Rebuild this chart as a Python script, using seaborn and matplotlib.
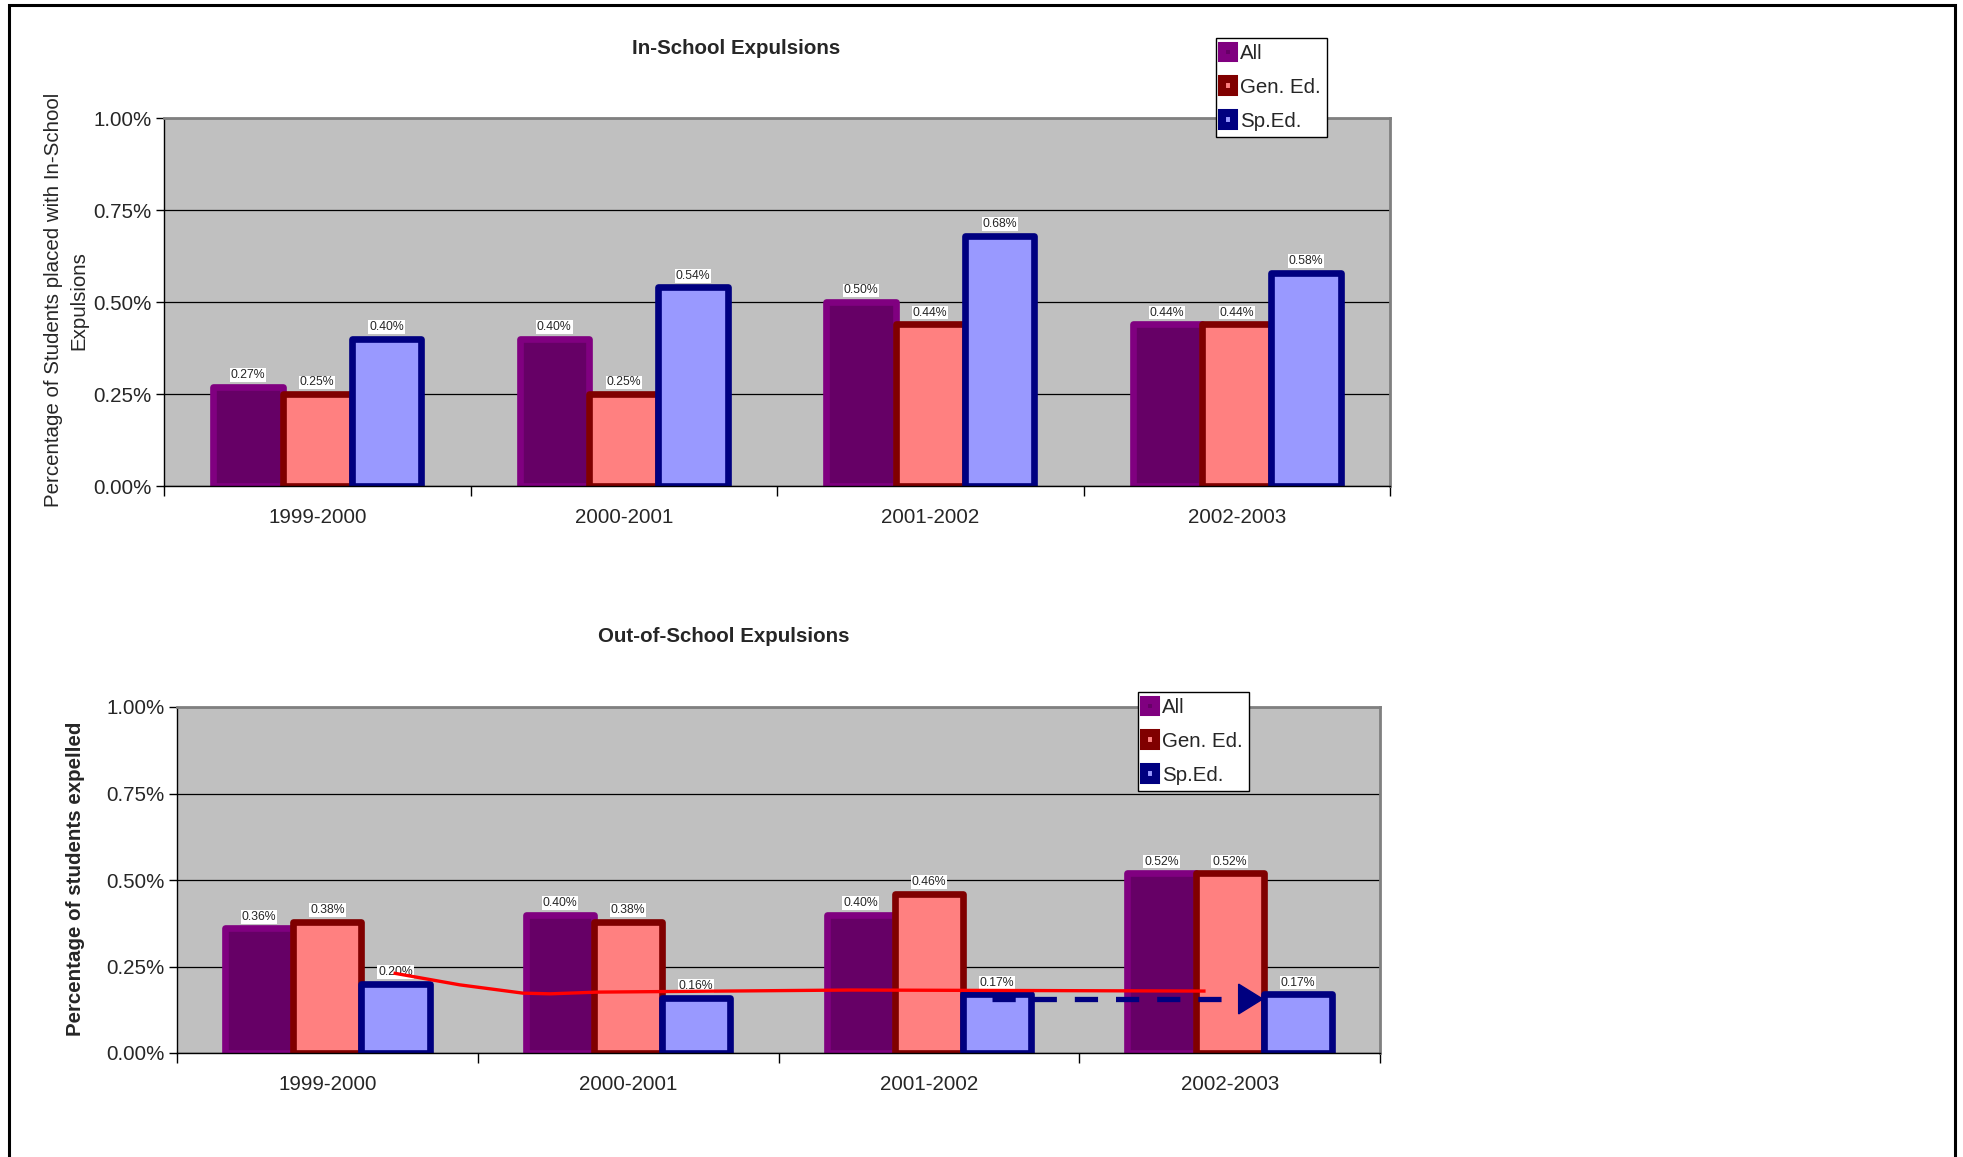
import numpy as np
import pandas as pd
import matplotlib
matplotlib.use("Agg")
import matplotlib.pyplot as plt
import seaborn as sns
from matplotlib.patches import Patch, Rectangle, Polygon
from matplotlib.ticker import FuncFormatter, MultipleLocator, FixedLocator

# ---------------- data ----------------
years = ["1999-2000", "2000-2001", "2001-2002", "2002-2003"]
groups = ["All", "Gen. Ed.", "Sp.Ed."]

in_all = [0.27, 0.40, 0.50, 0.44]
in_gen = [0.25, 0.25, 0.44, 0.44]
in_sp = [0.40, 0.54, 0.68, 0.58]

out_all = [0.36, 0.40, 0.40, 0.52]
out_gen = [0.38, 0.38, 0.46, 0.52]
out_sp = [0.20, 0.16, 0.17, 0.17]

face_colors = ["#660066", "#FF8080", "#9999FF"]
edge_colors = ["#800080", "#800000", "#000080"]

# hand-drawn annotations on the lower chart (category units, percent units)
red_x = [0.22, 0.44, 0.65, 0.74, 0.90, 1.74, 2.92]
red_y = [0.231, 0.197, 0.173, 0.171, 0.176, 0.182, 0.179]
arrow_x = [2.21, 3.03, 3.11]   # line start, head base, head tip
arrow_y = 0.156
arrow_half_h = 0.043

# ---------------- style ----------------
sns.set_style("white")
plt.rcParams["font.family"] = ["Liberation Sans", "DejaVu Sans"]

FS = 14.8
W, H, DPI = 1963, 1157, 100
fig = plt.figure(figsize=(W / DPI, H / DPI), dpi=DPI)
fig.patch.set_facecolor("white")


def make_df(a, g, s):
    rows = []
    for vals, grp in zip([a, g, s], groups):
        for y, v in zip(years, vals):
            rows.append({"Year": y, "Group": grp, "Value": v})
    return pd.DataFrame(rows)


def draw(ax, df, title, title_xy, ylabel, ylabel_xy, bold_ylabel):
    ax.set_facecolor("#C0C0C0")
    ax.set_axisbelow(True)
    ax.yaxis.grid(True, color="black", linewidth=0.9)
    sns.barplot(data=df, x="Year", y="Value", hue="Group", order=years,
                hue_order=groups, palette=face_colors, saturation=1,
                width=0.68, gap=0, errorbar=None, legend=False, ax=ax)
    for i, cont in enumerate(ax.containers):
        for bar in cont:
            bar.set_edgecolor(edge_colors[i])
            bar.set_linewidth(4.8)
            bar.set_joinstyle("round")
        labels = [f"{b.get_height():.2f}%" for b in cont]
        ax.bar_label(cont, labels=labels, padding=4, fontsize=8.8,
                     bbox=dict(facecolor="white", edgecolor="none", pad=0.6))
    ax.set_xlim(-0.5, 3.5)
    ax.set_ylim(0, 1.0)
    ax.yaxis.set_major_locator(MultipleLocator(0.25))
    ax.yaxis.set_major_formatter(FuncFormatter(lambda v, p: f"{v:.2f}%"))
    ax.tick_params(axis="y", direction="out", length=6, width=1, color="black",
                   labelsize=FS, pad=3, left=True)
    ax.set_xticks(range(4))
    ax.set_xticklabels(years)
    ax.xaxis.set_minor_locator(FixedLocator([-0.5, 0.5, 1.5, 2.5, 3.5]))
    ax.tick_params(axis="x", which="major", length=0, labelsize=FS, pad=16)
    ax.tick_params(axis="x", which="minor", direction="out", length=7,
                   width=1, color="black", bottom=True)
    ax.set_xlabel("")
    for side in ["left", "bottom"]:
        ax.spines[side].set_color("black")
        ax.spines[side].set_linewidth(1.0)
    for side in ["top", "right"]:
        ax.spines[side].set_color("#808080")
        ax.spines[side].set_linewidth(2.0)
    ax.set_title(title, x=title_xy[0], y=title_xy[1], pad=0, va="center",
                 fontsize=FS, fontweight="bold")
    ax.set_ylabel(ylabel, fontsize=FS,
                  fontweight="bold" if bold_ylabel else "normal",
                  multialignment="center", linespacing=1.45)
    ax.yaxis.set_label_coords(*ylabel_xy)
    ax.yaxis.label.set_va("center")
    ax.yaxis.label.set_ha("center")
    ax.yaxis.label.set_rotation_mode("default")


def add_legend(anchor):
    handles = [Patch(facecolor=f, edgecolor=e, linewidth=5.8, joinstyle="round")
               for f, e in zip(face_colors, edge_colors)]
    leg = fig.legend(handles, groups, loc="upper left", bbox_to_anchor=anchor,
                     bbox_transform=fig.transFigure, frameon=True, fancybox=False,
                     shadow=False, fontsize=FS, handlelength=0.58,
                     handleheight=0.58, handletextpad=0.3, labelspacing=0.72,
                     borderpad=0.3, borderaxespad=0)
    fr = leg.get_frame()
    fr.set_edgecolor("black")
    fr.set_linewidth(1.0)
    fr.set_facecolor("white")
    fr.set_alpha(1)
    return leg


# ---------------- top chart ----------------
ax1 = fig.add_axes([164 / W, 1 - 486 / H, (1390 - 164) / W, (486 - 118) / H])
draw(ax1, make_df(in_all, in_gen, in_sp), "In-School Expulsions", (0.4666, 1.189),
     "Percentage of Students placed with In-School\nExpulsions", (-0.080, 0.505), False)
add_legend((1216 / W, 1 - 38 / H))

# ---------------- bottom chart ----------------
ax2 = fig.add_axes([177 / W, 1 - 1053 / H, (1380 - 177) / W, (1053 - 707) / H])
draw(ax2, make_df(out_all, out_gen, out_sp), "Out-of-School Expulsions", (0.4547, 1.205),
     "Percentage of students expelled", (-0.084, 0.503), True)
add_legend((1138 / W, 1 - 692 / H))

# hand-drawn annotations
ax2.plot(red_x, red_y, color="#FF0000", linewidth=2.4, solid_capstyle="butt", zorder=5)
ax2.plot([arrow_x[0], arrow_x[1]], [arrow_y, arrow_y], color="#000080",
         linewidth=3.8, linestyle=(0, (4.4, 3.4)), dash_capstyle="butt", zorder=5)
ax2.add_patch(Polygon([[arrow_x[1], arrow_y + arrow_half_h],
                       [arrow_x[1], arrow_y - arrow_half_h],
                       [arrow_x[2], arrow_y]], closed=True,
                      facecolor="#000080", edgecolor="#000080", zorder=5))

# outer frame
fig.add_artist(Rectangle((8.5 / W, -0.05), (1955 - 8.5) / W, 1.05 - 5 / H,
                         transform=fig.transFigure, fill=False,
                         edgecolor="black", linewidth=2.2, clip_on=False))

fig.savefig("out.png", dpi=DPI, facecolor="white")
